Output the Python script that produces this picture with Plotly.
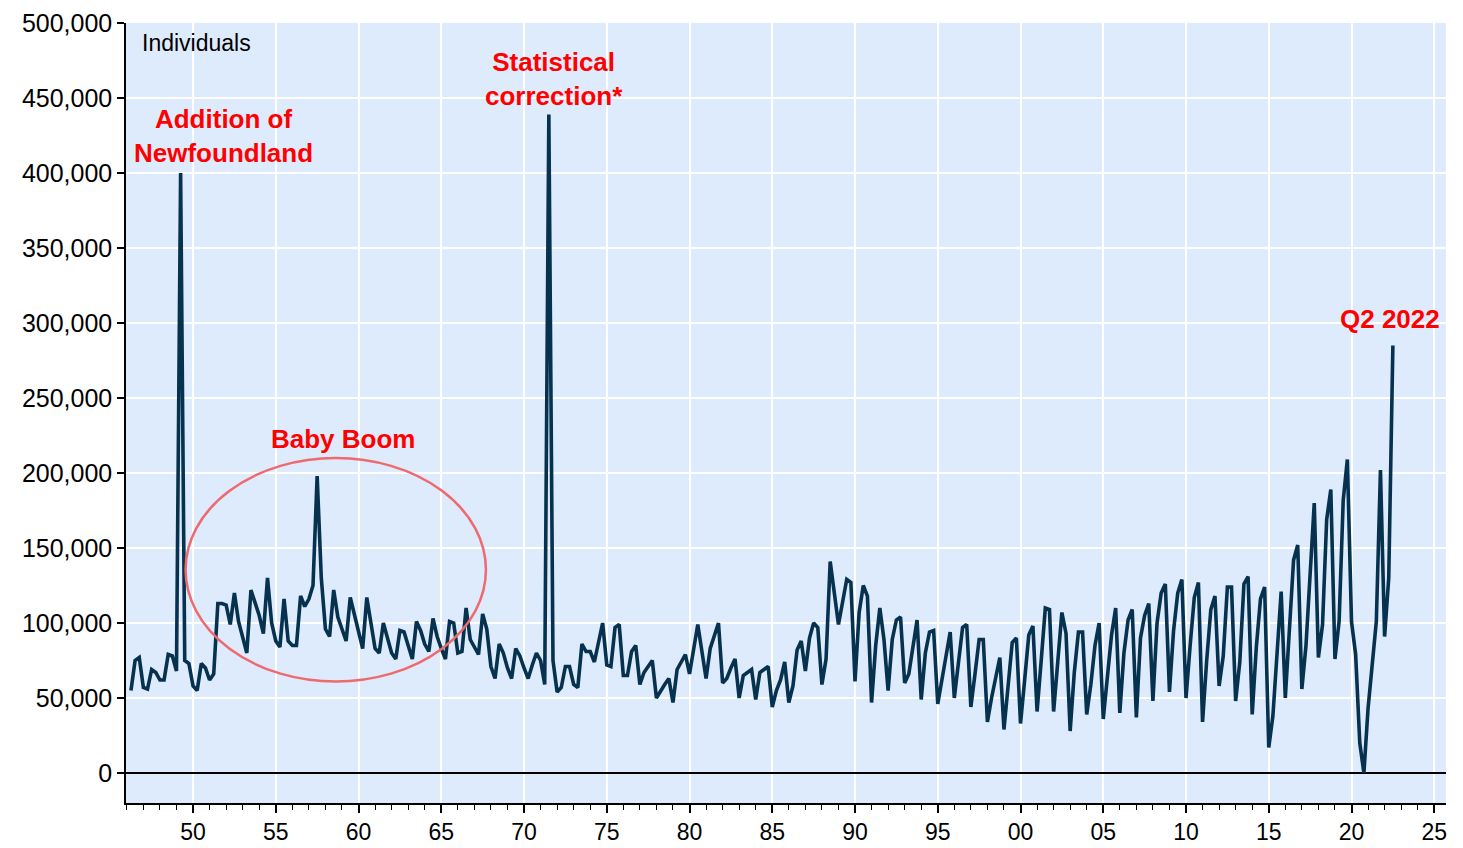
import plotly.graph_objects as go

# Quarterly population growth in Canada (individuals, thousands), Q1 1946 - Q2 2022
start_year = 1946
growth_1940s = [55, 75, 77, 57, 56, 69, 67, 62, 62, 79, 78, 68, 400, 75, 73, 58]
growth_1950s = [55, 73, 70, 62, 66, 113, 113, 112, 99, 120, 101, 90, 80, 122, 114, 105,
                93, 130, 100, 88, 84, 116, 88, 85, 85, 118, 111, 116, 125, 198, 130, 96,
                91, 122, 104, 95, 88, 117, 106, 94]
growth_1960s = [83, 117, 100, 83, 80, 100, 90, 80, 76, 95, 94, 85, 76, 101, 95, 86,
                81, 103, 91, 83, 76, 101, 100, 80, 81, 110, 89, 84, 79, 106, 96, 71,
                63, 86, 80, 70, 63, 83, 78, 70]
growth_1970s = [63, 72, 80, 75, 59, 439, 75, 54, 57, 71, 71, 59, 57, 86, 81, 81,
                74, 87, 100, 72, 71, 97, 99, 65, 65, 81, 85, 59, 67, 71, 75, 50,
                55, 59, 63, 47, 69, 74, 79, 66]
growth_1980s = [82, 99, 81, 63, 83, 92, 100, 60, 63, 70, 76, 50, 65, 67, 69, 49,
                67, 69, 71, 44, 55, 62, 74, 47, 58, 82, 88, 68, 90, 100, 97, 59,
                76, 141, 120, 99, 114, 129, 127, 61]
growth_1990s = [107, 125, 118, 47, 85, 110, 89, 55, 89, 102, 104, 60, 66, 84, 102, 49,
                80, 94, 95, 46, 62, 79, 94, 50, 73, 97, 99, 44, 66, 89, 89, 34,
                50, 65, 77, 29, 58, 87, 90, 33]
growth_2000s = [62, 92, 98, 41, 75, 110, 109, 41, 74, 107, 93, 28, 67, 94, 94, 39,
                59, 85, 100, 36, 64, 92, 110, 40, 80, 102, 109, 37, 90, 105, 113, 48,
                100, 120, 126, 54, 95, 120, 129, 50]
growth_2010s = [85, 117, 127, 34, 75, 109, 118, 58, 78, 124, 124, 48, 74, 126, 131, 39,
                84, 116, 124, 17, 38, 80, 121, 50, 95, 142, 152, 56, 85, 130, 180, 77,
                99, 169, 189, 76, 101, 182, 209, 101]
growth_2020s = [79, 20, 0, 43, 70, 101, 202, 91, 130, 285]

tick_years = [1950, 1955, 1960, 1965, 1970, 1975, 1980, 1985, 1990, 1995,
              2000, 2005, 2010, 2015, 2020, 2025]
tick_labels = ["50", "55", "60", "65", "70", "75", "80", "85", "90", "95",
               "00", "05", "10", "15", "20", "25"]
y_ticks = [0, 50000, 100000, 150000, 200000, 250000, 300000, 350000, 400000, 450000, 500000]

growth_k = (growth_1940s + growth_1950s + growth_1960s + growth_1970s +
            growth_1980s + growth_1990s + growth_2000s + growth_2010s + growth_2020s)
values = [v * 1000 for v in growth_k]
# quarter-end position in fractional years
quarters = [start_year + (i + 1) / 4 for i in range(len(values))]

FONT = "Liberation Sans, Arial, sans-serif"
RED = "#FF0000"

fig = go.Figure()
fig.add_trace(go.Scatter(
    x=quarters, y=values, mode="lines",
    line=dict(color="#07324F", width=3.6),
    hoverinfo="x+y", showlegend=False,
))

fig.add_shape(type="circle", xref="x", yref="y",
              x0=1949.55, x1=1967.7, y0=61000, y1=210000,
              line=dict(color="#EE6A6E", width=2.5), layer="above")

annotations = [
    dict(x=1951.87, y=425000, text="<b>Addition of<br>Newfoundland</b>"),
    dict(x=1971.8, y=463000, text="<b>Statistical<br>correction*</b>"),
    dict(x=1959.05, y=223000, text="<b>Baby Boom</b>"),
    dict(x=2022.35, y=303000, text="<b>Q2 2022</b>"),
]
for a in annotations:
    fig.add_annotation(xref="x", yref="y", showarrow=False, xanchor="center", yanchor="middle",
                       font=dict(color=RED, size=26, family=FONT), **a)
fig.add_annotation(xref="x", yref="y", x=1946.8, y=487000, text="Individuals",
                   showarrow=False, xanchor="left", yanchor="middle",
                   font=dict(color="black", size=23, family=FONT))

fig.update_layout(
    width=1463, height=848,
    margin=dict(l=126, r=17, t=23, b=45),
    paper_bgcolor="white", plot_bgcolor="#DDEBFC",
    font=dict(family=FONT, size=25, color="black"),
    showlegend=False,
)
fig.update_xaxes(
    range=[1945.95, 2025.71], automargin=False,
    tickmode="array", tickvals=tick_years, ticktext=tick_labels,
    ticks="outside", ticklen=8, tickwidth=1.5, tickcolor="black",
    showgrid=True, gridcolor="white", gridwidth=2,
    showline=True, linecolor="black", linewidth=1.5,
    zeroline=False,
    tickfont=dict(size=23, family=FONT, color="black"),
    minor=dict(tick0=1946, dtick=1, ticks="outside", ticklen=5, tickwidth=1.2,
               tickcolor="black", showgrid=False),
)
fig.update_yaxes(
    range=[-20000, 500000], automargin=False,
    tickmode="array", tickvals=y_ticks,
    tickformat=",d",
    ticks="outside", ticklen=7, tickwidth=1.5, tickcolor="black",
    showgrid=True, gridcolor="white", gridwidth=2,
    showline=True, linecolor="black", linewidth=1.5,
    zeroline=True, zerolinecolor="black", zerolinewidth=1.6,
    tickfont=dict(size=25, family=FONT, color="black"),
)

fig.write_html("out.html", config={"displayModeBar": False},
               post_script="document.body.style.margin='0px';")
